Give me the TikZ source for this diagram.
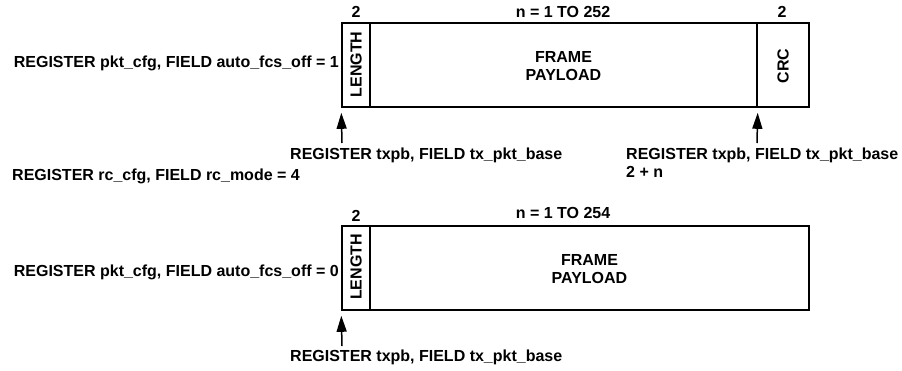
\documentclass[tikz,border=0pt]{standalone}
\usepackage{fontspec}
\setmainfont{Liberation Sans}
\usetikzlibrary{arrows.meta}
\begin{document}
\begin{tikzpicture}[x=1pt,y=-1pt,
  every node/.style={font=\fontsize{16}{18}\selectfont\bfseries, inner sep=0pt},
  field/.style={draw, line width=1.6pt, minimum height=84pt, anchor=center},
  lbl/.style={align=left},
  ptr/.style={line width=1.5pt, shorten >=5pt, -{Triangle[length=16pt,width=10pt]}}]
\useasboundingbox (0,0) rectangle (902,370);
% top frame
\node[field, minimum width=28pt] (len1) at (356,65) {};
\node[field, minimum width=387pt] (pay1) at (563.5,65) {};
\node[field, minimum width=52pt] (crc1) at (783,65) {};
\node[rotate=90] (lent1) at (356,64.5) {LENGTH};
\node[align=center] (payt1) at (563.5,66) {FRAME\\PAYLOAD};
\node[rotate=90] (crct1) at (783,66) {CRC};
\node (n1) at (356,12) {2};
\node (n2) at (563,12) {n = 1 TO 252};
\node (n3) at (782,12) {2};
\node[anchor=east] (cfg1) at (339,63) {REGISTER pkt\_cfg, FIELD auto\_fcs\_off = 1};
\coordinate (a1) at (342,143);
\coordinate (a2) at (757,143);
\draw[ptr] (a1) -- (len1.south west);
\draw[ptr] (a2) -- (pay1.south east);
\node[anchor=west] (tx1) at (290,155) {REGISTER txpb, FIELD tx\_pkt\_base};
\node[anchor=north west, lbl] (tx2) at (626,148) {REGISTER txpb, FIELD tx\_pkt\_base\\2 + n};
\node[anchor=west] (rc) at (12,176) {REGISTER rc\_cfg, FIELD rc\_mode = 4};
% bottom frame
\node[field, minimum width=28pt] (len2) at (356,268) {};
\node[field, minimum width=439pt] (pay2) at (589.5,268) {};
\node[rotate=90] (lent2) at (356,267) {LENGTH};
\node[align=center] (payt2) at (589.5,269) {FRAME\\PAYLOAD};
\node (n4) at (356,216) {2};
\node (n5) at (563,213) {n = 1 TO 254};
\node[anchor=east] (cfg2) at (339,272) {REGISTER pkt\_cfg, FIELD auto\_fcs\_off = 0};
\coordinate (a3) at (342,346);
\draw[ptr] (a3) -- (len2.south west);
\node[anchor=west] (tx3) at (290,357) {REGISTER txpb, FIELD tx\_pkt\_base};
\end{tikzpicture}
\end{document}
